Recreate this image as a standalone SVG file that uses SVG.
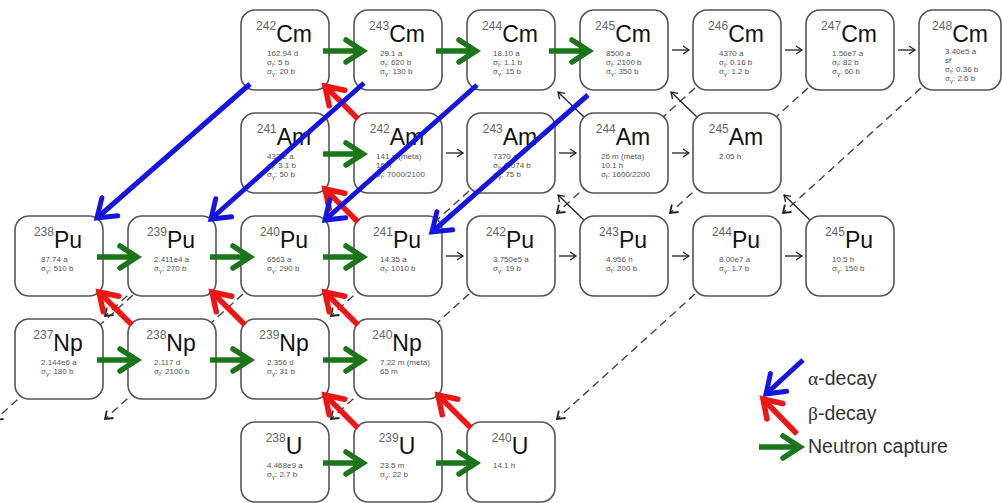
<svg xmlns="http://www.w3.org/2000/svg" width="1002" height="503" viewBox="0 0 1002 503">
<style>
.box{fill:#fff;stroke:#555;stroke-width:1.6}
.lbl{font-family:"Liberation Sans",Arial,sans-serif;text-anchor:middle}
.ms{font-size:12px;fill:#666}
.el{font-size:23px;fill:#111}
.s{font-family:"Liberation Sans",Arial,sans-serif;font-size:8px;fill:#555}
.sub{font-size:6px}
.lg{font-family:"Liberation Sans",Arial,sans-serif;font-size:19.5px;fill:#333}
.gr{fill:none;stroke:#1b761b;stroke-width:5.5;marker-end:url(#hG)}
.rd{fill:none;stroke:#ee1515;stroke-width:5.5;marker-end:url(#hR)}
.bl{fill:none;stroke:#1515e0;stroke-width:5;marker-end:url(#hB)}
.tk{fill:none;stroke:#222;stroke-width:1.3;marker-end:url(#hK)}
.da{fill:none;stroke:#444;stroke-width:1.4;stroke-dasharray:8 5;marker-end:url(#hD)}
</style>
<defs>
<marker id="hG" markerUnits="userSpaceOnUse" orient="auto" overflow="visible" markerWidth="1" markerHeight="1"><path d="M-17,-11 L0,0 L-17,11" fill="none" stroke="#1b761b" stroke-width="5.5" stroke-linecap="round"/></marker>
<marker id="hR" markerUnits="userSpaceOnUse" orient="auto" overflow="visible" markerWidth="1" markerHeight="1"><path d="M-17,-11 L0,0 L-17,11" fill="none" stroke="#ee1515" stroke-width="5.5" stroke-linecap="round"/></marker>
<marker id="hB" markerUnits="userSpaceOnUse" orient="auto" overflow="visible" markerWidth="1" markerHeight="1"><path d="M-17,-12 L0,0 L-17,12" fill="none" stroke="#1515e0" stroke-width="5" stroke-linecap="round"/></marker>
<marker id="hK" markerUnits="userSpaceOnUse" orient="auto" overflow="visible" markerWidth="1" markerHeight="1"><path d="M-6,-4 L0,0 L-6,4" fill="none" stroke="#222" stroke-width="1.3"/></marker>
<marker id="hD" markerUnits="userSpaceOnUse" orient="auto" overflow="visible" markerWidth="1" markerHeight="1"><path d="M-7,-5 L0,0 L-7,5" fill="none" stroke="#222" stroke-width="1.8" stroke-dasharray="none"/></marker>
</defs>
<rect width="1002" height="503" fill="#fff"/>

<g id="connectors-back">
<path class="da" d="M695,88 L557,213"/>
<path class="da" d="M808,88 L670,213"/>
<path class="da" d="M921,88 L783,213"/>
<path class="da" d="M243,191 L105,316"/>
<path class="da" d="M469,191 L331,316"/>
<path class="da" d="M133,295 L-5,420"/>
<path class="da" d="M243,294 L105,419"/>
<path class="da" d="M469,294 L331,419"/>
<path class="da" d="M695,294 L557,419"/>
<path class="tk" d="M585,118 L558,92"/>
<path class="tk" d="M698,118 L671,92"/>
<path class="tk" d="M585,221 L558,195"/>
<path class="tk" d="M811,221 L784,195"/>
</g>

<g id="n-Cm242"><rect class="box" x="241" y="10" width="88" height="80" rx="14"/><text class="lbl" x="284" y="42"><tspan class="ms" dy="-12">242</tspan><tspan class="el" dy="12">Cm</tspan></text><text class="s" x="267" y="56">162.94 d</text><text class="s" x="267" y="65">σ<tspan class="sub" dy="2">f</tspan><tspan dy="-2">: 5 b</tspan></text><text class="s" x="267" y="74">σ<tspan class="sub" dy="2">γ</tspan><tspan dy="-2">: 20 b</tspan></text></g>
<g id="n-Cm243"><rect class="box" x="354" y="10" width="88" height="80" rx="14"/><text class="lbl" x="397" y="42"><tspan class="ms" dy="-12">243</tspan><tspan class="el" dy="12">Cm</tspan></text><text class="s" x="380" y="56">29.1 a</text><text class="s" x="380" y="65">σ<tspan class="sub" dy="2">f</tspan><tspan dy="-2">: 620 b</tspan></text><text class="s" x="380" y="74">σ<tspan class="sub" dy="2">γ</tspan><tspan dy="-2">: 130 b</tspan></text></g>
<g id="n-Cm244"><rect class="box" x="467" y="10" width="88" height="80" rx="14"/><text class="lbl" x="510" y="42"><tspan class="ms" dy="-12">244</tspan><tspan class="el" dy="12">Cm</tspan></text><text class="s" x="493" y="56">18.10 a</text><text class="s" x="493" y="65">σ<tspan class="sub" dy="2">f</tspan><tspan dy="-2">: 1.1 b</tspan></text><text class="s" x="493" y="74">σ<tspan class="sub" dy="2">γ</tspan><tspan dy="-2">: 15 b</tspan></text></g>
<g id="n-Cm245"><rect class="box" x="580" y="10" width="88" height="80" rx="14"/><text class="lbl" x="623" y="42"><tspan class="ms" dy="-12">245</tspan><tspan class="el" dy="12">Cm</tspan></text><text class="s" x="606" y="56">8500 a</text><text class="s" x="606" y="65">σ<tspan class="sub" dy="2">f</tspan><tspan dy="-2">: 2100 b</tspan></text><text class="s" x="606" y="74">σ<tspan class="sub" dy="2">γ</tspan><tspan dy="-2">: 350 b</tspan></text></g>
<g id="n-Cm246"><rect class="box" x="693" y="10" width="88" height="80" rx="14"/><text class="lbl" x="736" y="42"><tspan class="ms" dy="-12">246</tspan><tspan class="el" dy="12">Cm</tspan></text><text class="s" x="719" y="56">4370 a</text><text class="s" x="719" y="65">σ<tspan class="sub" dy="2">f</tspan><tspan dy="-2">: 0.16 b</tspan></text><text class="s" x="719" y="74">σ<tspan class="sub" dy="2">γ</tspan><tspan dy="-2">: 1.2 b</tspan></text></g>
<g id="n-Cm247"><rect class="box" x="806" y="10" width="88" height="80" rx="14"/><text class="lbl" x="849" y="42"><tspan class="ms" dy="-12">247</tspan><tspan class="el" dy="12">Cm</tspan></text><text class="s" x="832" y="56">1.56e7 a</text><text class="s" x="832" y="65">σ<tspan class="sub" dy="2">f</tspan><tspan dy="-2">: 82 b</tspan></text><text class="s" x="832" y="74">σ<tspan class="sub" dy="2">γ</tspan><tspan dy="-2">: 60 b</tspan></text></g>
<g id="n-Cm248"><rect class="box" x="919" y="10" width="82" height="80" rx="14"/><text class="lbl" x="960" y="42"><tspan class="ms" dy="-12">248</tspan><tspan class="el" dy="12">Cm</tspan></text><text class="s" x="945" y="54">3.40e5 a</text><text class="s" x="945" y="63">sf</text><text class="s" x="945" y="72">σ<tspan class="sub" dy="2">f</tspan><tspan dy="-2">: 0.36 b</tspan></text><text class="s" x="945" y="81">σ<tspan class="sub" dy="2">γ</tspan><tspan dy="-2">: 2.6 b</tspan></text></g>

<g id="n-Am241"><rect class="box" x="241" y="113" width="88" height="80" rx="14"/><text class="lbl" x="284" y="145"><tspan class="ms" dy="-12">241</tspan><tspan class="el" dy="12">Am</tspan></text><text class="s" x="267" y="159">432.2 a</text><text class="s" x="267" y="168">σ<tspan class="sub" dy="2">f</tspan><tspan dy="-2">: 3.1 b</tspan></text><text class="s" x="267" y="177">σ<tspan class="sub" dy="2">γ</tspan><tspan dy="-2">: 50 b</tspan></text></g>
<g id="n-Am242"><rect class="box" x="354" y="113" width="88" height="80" rx="14"/><text class="lbl" x="397" y="145"><tspan class="ms" dy="-12">242</tspan><tspan class="el" dy="12">Am</tspan></text><text class="s" x="376" y="159">141 a (meta)</text><text class="s" x="376" y="168">16 h</text><text class="s" x="376" y="177">σ<tspan class="sub" dy="2">f</tspan><tspan dy="-2">: 7000/2100</tspan></text></g>
<g id="n-Am243"><rect class="box" x="467" y="113" width="88" height="80" rx="14"/><text class="lbl" x="510" y="145"><tspan class="ms" dy="-12">243</tspan><tspan class="el" dy="12">Am</tspan></text><text class="s" x="493" y="159">7370 a</text><text class="s" x="493" y="168">σ<tspan class="sub" dy="2">f</tspan><tspan dy="-2">: 0.074 b</tspan></text><text class="s" x="493" y="177">σ<tspan class="sub" dy="2">γ</tspan><tspan dy="-2">: 75 b</tspan></text></g>
<g id="n-Am244"><rect class="box" x="580" y="113" width="88" height="80" rx="14"/><text class="lbl" x="623" y="145"><tspan class="ms" dy="-12">244</tspan><tspan class="el" dy="12">Am</tspan></text><text class="s" x="601" y="159">26 m (meta)</text><text class="s" x="601" y="168">10.1 h</text><text class="s" x="601" y="177">σ<tspan class="sub" dy="2">f</tspan><tspan dy="-2">: 1600/2200</tspan></text></g>
<g id="n-Am245"><rect class="box" x="693" y="113" width="88" height="80" rx="14"/><text class="lbl" x="736" y="145"><tspan class="ms" dy="-12">245</tspan><tspan class="el" dy="12">Am</tspan></text><text class="s" x="719" y="159">2.05 h</text></g>

<g id="n-Pu238"><rect class="box" x="15" y="216" width="88" height="80" rx="14"/><text class="lbl" x="58" y="248"><tspan class="ms" dy="-12">238</tspan><tspan class="el" dy="12">Pu</tspan></text><text class="s" x="41" y="262">87.74 a</text><text class="s" x="41" y="271">σ<tspan class="sub" dy="2">γ</tspan><tspan dy="-2">: 510 b</tspan></text></g>
<g id="n-Pu239"><rect class="box" x="128" y="216" width="88" height="80" rx="14"/><text class="lbl" x="171" y="248"><tspan class="ms" dy="-12">239</tspan><tspan class="el" dy="12">Pu</tspan></text><text class="s" x="154" y="262">2.411e4 a</text><text class="s" x="154" y="271">σ<tspan class="sub" dy="2">γ</tspan><tspan dy="-2">: 270 b</tspan></text></g>
<g id="n-Pu240"><rect class="box" x="241" y="216" width="88" height="80" rx="14"/><text class="lbl" x="284" y="248"><tspan class="ms" dy="-12">240</tspan><tspan class="el" dy="12">Pu</tspan></text><text class="s" x="267" y="262">6563 a</text><text class="s" x="267" y="271">σ<tspan class="sub" dy="2">γ</tspan><tspan dy="-2">: 290 b</tspan></text></g>
<g id="n-Pu241"><rect class="box" x="354" y="216" width="88" height="80" rx="14"/><text class="lbl" x="397" y="248"><tspan class="ms" dy="-12">241</tspan><tspan class="el" dy="12">Pu</tspan></text><text class="s" x="380" y="262">14.35 a</text><text class="s" x="380" y="271">σ<tspan class="sub" dy="2">f</tspan><tspan dy="-2">: 1010 b</tspan></text></g>
<g id="n-Pu242"><rect class="box" x="467" y="216" width="88" height="80" rx="14"/><text class="lbl" x="510" y="248"><tspan class="ms" dy="-12">242</tspan><tspan class="el" dy="12">Pu</tspan></text><text class="s" x="493" y="262">3.750e5 a</text><text class="s" x="493" y="271">σ<tspan class="sub" dy="2">γ</tspan><tspan dy="-2">: 19 b</tspan></text></g>
<g id="n-Pu243"><rect class="box" x="580" y="216" width="88" height="80" rx="14"/><text class="lbl" x="623" y="248"><tspan class="ms" dy="-12">243</tspan><tspan class="el" dy="12">Pu</tspan></text><text class="s" x="606" y="262">4.956 h</text><text class="s" x="606" y="271">σ<tspan class="sub" dy="2">f</tspan><tspan dy="-2">: 200 b</tspan></text></g>
<g id="n-Pu244"><rect class="box" x="693" y="216" width="88" height="80" rx="14"/><text class="lbl" x="736" y="248"><tspan class="ms" dy="-12">244</tspan><tspan class="el" dy="12">Pu</tspan></text><text class="s" x="719" y="262">8.00e7 a</text><text class="s" x="719" y="271">σ<tspan class="sub" dy="2">γ</tspan><tspan dy="-2">: 1.7 b</tspan></text></g>
<g id="n-Pu245"><rect class="box" x="806" y="216" width="88" height="80" rx="14"/><text class="lbl" x="849" y="248"><tspan class="ms" dy="-12">245</tspan><tspan class="el" dy="12">Pu</tspan></text><text class="s" x="832" y="262">10.5 h</text><text class="s" x="832" y="271">σ<tspan class="sub" dy="2">γ</tspan><tspan dy="-2">: 150 b</tspan></text></g>

<g id="n-Np237"><rect class="box" x="15" y="319" width="88" height="80" rx="14"/><text class="lbl" x="58" y="351"><tspan class="ms" dy="-12">237</tspan><tspan class="el" dy="12">Np</tspan></text><text class="s" x="41" y="365">2.144e6 a</text><text class="s" x="41" y="374">σ<tspan class="sub" dy="2">γ</tspan><tspan dy="-2">: 180 b</tspan></text></g>
<g id="n-Np238"><rect class="box" x="128" y="319" width="88" height="80" rx="14"/><text class="lbl" x="171" y="351"><tspan class="ms" dy="-12">238</tspan><tspan class="el" dy="12">Np</tspan></text><text class="s" x="154" y="365">2.117 d</text><text class="s" x="154" y="374">σ<tspan class="sub" dy="2">f</tspan><tspan dy="-2">: 2100 b</tspan></text></g>
<g id="n-Np239"><rect class="box" x="241" y="319" width="88" height="80" rx="14"/><text class="lbl" x="284" y="351"><tspan class="ms" dy="-12">239</tspan><tspan class="el" dy="12">Np</tspan></text><text class="s" x="267" y="365">2.356 d</text><text class="s" x="267" y="374">σ<tspan class="sub" dy="2">γ</tspan><tspan dy="-2">: 31 b</tspan></text></g>
<g id="n-Np240"><rect class="box" x="354" y="319" width="88" height="80" rx="14"/><text class="lbl" x="397" y="351"><tspan class="ms" dy="-12">240</tspan><tspan class="el" dy="12">Np</tspan></text><text class="s" x="380" y="365">7.22 m (meta)</text><text class="s" x="380" y="374">65 m</text></g>

<g id="n-U238"><rect class="box" x="241" y="422" width="88" height="80" rx="14"/><text class="lbl" x="284" y="454"><tspan class="ms" dy="-12">238</tspan><tspan class="el" dy="12">U</tspan></text><text class="s" x="267" y="468">4.468e9 a</text><text class="s" x="267" y="477">σ<tspan class="sub" dy="2">γ</tspan><tspan dy="-2">: 2.7 b</tspan></text></g>
<g id="n-U239"><rect class="box" x="354" y="422" width="88" height="80" rx="14"/><text class="lbl" x="397" y="454"><tspan class="ms" dy="-12">239</tspan><tspan class="el" dy="12">U</tspan></text><text class="s" x="380" y="468">23.5 m</text><text class="s" x="380" y="477">σ<tspan class="sub" dy="2">γ</tspan><tspan dy="-2">: 22 b</tspan></text></g>
<g id="n-U240"><rect class="box" x="467" y="422" width="88" height="80" rx="14"/><text class="lbl" x="510" y="454"><tspan class="ms" dy="-12">240</tspan><tspan class="el" dy="12">U</tspan></text><text class="s" x="493" y="468">14.1 h</text></g>

<g id="connectors">
<path class="tk" d="M672,50 L689,50"/>
<path class="tk" d="M785,50 L802,50"/>
<path class="tk" d="M898,50 L915,50"/>
<path class="tk" d="M446,153 L463,153"/>
<path class="tk" d="M559,153 L576,153"/>
<path class="tk" d="M672,153 L689,153"/>
<path class="tk" d="M446,256 L463,256"/>
<path class="tk" d="M559,256 L576,256"/>
<path class="tk" d="M672,256 L689,256"/>
<path class="tk" d="M785,256 L802,256"/>
<path class="gr" d="M323,51 L363,51"/>
<path class="gr" d="M436,51 L476,51"/>
<path class="gr" d="M549,51 L589,51"/>
<path class="gr" d="M323,154 L363,154"/>
<path class="gr" d="M97,257 L137,257"/>
<path class="gr" d="M210,257 L250,257"/>
<path class="gr" d="M323,257 L363,257"/>
<path class="gr" d="M97,360 L137,360"/>
<path class="gr" d="M210,360 L250,360"/>
<path class="gr" d="M323,360 L363,360"/>
<path class="gr" d="M323,463 L363,463"/>
<path class="gr" d="M436,463 L476,463"/>
<path class="rd" d="M358,428 L325,395"/>
<path class="rd" d="M471,428 L438,395"/>
<path class="rd" d="M132,325 L99,292"/>
<path class="rd" d="M245,325 L212,292"/>
<path class="rd" d="M358,325 L325,292"/>
<path class="rd" d="M358,222 L325,189"/>
<path class="rd" d="M358,119 L325,86"/>
<path class="bl" d="M250,84 L97,218"/>
<path class="bl" d="M364,83 L211,219"/>
<path class="bl" d="M477,85 L325,220"/>
<path class="bl" d="M588,95 L432,232"/>
</g>

<g id="legend">
<path class="bl" d="M803,360 L766,394"/>
<path class="rd" d="M797,434 L763,399"/>
<path class="gr" d="M759,447 L800,447"/>
<text class="lg" x="808" y="385"><tspan font-family="'Liberation Serif',serif">α</tspan>-decay</text>
<text class="lg" x="808" y="420"><tspan font-family="'Liberation Serif',serif">β</tspan>-decay</text>
<text class="lg" x="808" y="453">Neutron capture</text>
</g>
</svg>
